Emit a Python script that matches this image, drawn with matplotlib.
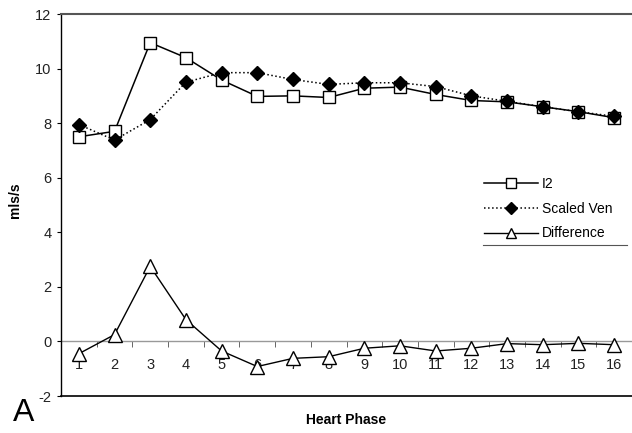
import matplotlib
matplotlib.use("Agg")
import matplotlib.pyplot as plt
from matplotlib.lines import Line2D

plt.rcParams['font.family'] = ['Liberation Sans', 'DejaVu Sans']

phases = list(range(1, 17))
i2 = [7.5, 7.7, 10.95, 10.4, 9.58, 8.98, 9.0, 8.94, 9.28, 9.32, 9.05, 8.83, 8.78, 8.6, 8.42, 8.2]
scaled_ven = [7.95, 7.38, 8.13, 9.5, 9.85, 9.85, 9.6, 9.42, 9.48, 9.48, 9.34, 9.0, 8.8, 8.6, 8.42, 8.25]
difference = [-0.45, 0.25, 2.75, 0.8, -0.35, -0.92, -0.62, -0.56, -0.25, -0.16, -0.35, -0.25, -0.08, -0.12, -0.07, -0.12]
yticks = [-2, 0, 2, 4, 6, 8, 10, 12]

fig = plt.figure(figsize=(6.32, 4.33), dpi=100)
ax = fig.add_axes([61/632, 1-396/433, 1-61/632, (396-14)/433])

ax.axhline(0, color='#999999', lw=1.0, zorder=1)
ax.plot(phases, i2, '-', color='black', lw=1.1, marker='s', ms=9,
        mfc='white', mec='black', mew=1.0, zorder=3)
ax.plot(phases, scaled_ven, ':', color='black', lw=1.1, marker='D', ms=7.5,
        mfc='black', mec='black', zorder=4)
ax.plot(phases, difference, '-', color='black', lw=1.0, marker='^', ms=10,
        mfc='white', mec='black', mew=1.0, zorder=3)

ax.set_xlim(0.5, 16.5)
ax.set_ylim(-2, 12)
ax.set_yticks(yticks)
ax.set_yticklabels([str(v) for v in yticks])
ax.tick_params(axis='y', direction='out', length=3, width=0.8, labelsize=10.5,
               colors='black', labelcolor='#222222', pad=4)
ax.set_xticks([])
ax.spines['top'].set_color('#555555')
ax.spines['top'].set_linewidth(1.5)
ax.spines['right'].set_visible(False)
ax.spines['left'].set_linewidth(1.0)
ax.spines['bottom'].set_linewidth(1.2)

sec = ax.secondary_xaxis(2/14)
sec.spines['bottom'].set_visible(False)
sec.set_xticks(phases)
sec.set_xticklabels([str(p) for p in phases])
sec.set_xticks([p + 0.5 for p in phases[:-1]], minor=True)
sec.tick_params(axis='x', which='major', length=0, labelsize=10.5, pad=12,
                labelcolor='#222222')
sec.tick_params(axis='x', which='minor', length=4, width=0.7, color='#666666',
                direction='out')

ax.set_ylabel('mls/s', fontsize=10, fontweight='bold')
ax.yaxis.set_label_coords((22-61)/571, (396-200)/382)
fig.text(346/632, 1-420/433, 'Heart Phase', fontsize=10, fontweight='bold',
         ha='center', va='center')
fig.text(24/632, 1-413/433, 'A', fontsize=23, ha='center', va='center')

handles = [
    Line2D([], [], ls='-', color='black', lw=1.1, marker='s', ms=6.5, mfc='white', mec='black'),
    Line2D([], [], ls=':', color='black', lw=1.1, marker='D', ms=6, mfc='black', mec='black'),
    Line2D([], [], ls='-', color='black', lw=1.0, marker='^', ms=7, mfc='white', mec='black'),
]
leg = ax.legend(handles, ['I2', 'Scaled Ven', 'Difference'], loc='upper left',
                bbox_to_anchor=((474-61)/(632-61), (396-167)/382), frameon=False,
                fontsize=10, handlelength=3.9, handletextpad=0.3,
                labelspacing=0.78, borderpad=0.2)
fig.add_artist(Line2D([483/632, 627/632], [1-245/433, 1-245/433],
                      color='#555555', lw=0.8))

fig.savefig('out.png', dpi=100)
